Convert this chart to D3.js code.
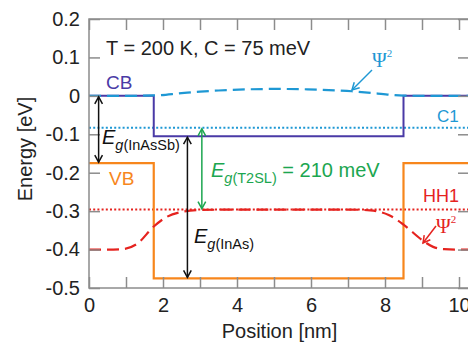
<!DOCTYPE html>
<html>
<head>
<meta charset="utf-8">
<script src="https://cdn.jsdelivr.net/npm/d3@7"></script>
<style>
  body { margin: 0; background: #fff; }
  svg { display: block; font-family: "Liberation Sans", Arial, sans-serif; }
</style>
</head>
<body>
<svg id="chart" width="468" height="346"></svg>
<script>
// band edges (eV) along the position (nm)
const bandX = [0, 1.75, 1.75, 8.5, 8.5, 10.5];
const cbE = [0, 0, -0.105, -0.105, 0, 0];
const vbE = [-0.175, -0.175, -0.475, -0.475, -0.175, -0.175];

// confined levels
const c1E = -0.083;
const hh1E = -0.296;

// electron probability density (shifted onto CB)
const psiEX = [0, 1, 1.75, 2.5, 3.0, 3.5, 4.3, 5.1, 5.9, 6.7, 7.1, 7.8, 8.5, 9.5, 10.5];
const psiEY = [0, 0, 0.001, 0.007, 0.011, 0.014, 0.017, 0.018, 0.017, 0.014, 0.012, 0.006, 0.0005, 0, 0];

// hole probability density
const psiHX = [0, 0.5, 0.9, 1.3, 1.75, 2.1, 2.5, 3.0, 4, 5, 6, 7, 7.6, 8.1, 8.5, 9.0, 9.3, 9.6, 10, 10.5];
const psiHY = [-0.4, -0.4, -0.399, -0.385, -0.34, -0.315, -0.302, -0.297, -0.296, -0.296, -0.296, -0.296,
               -0.298, -0.31, -0.335, -0.375, -0.393, -0.399, -0.4, -0.4];

const xTicks = [0, 1, 2, 3, 4, 5, 6, 7, 8, 9, 10];
const yTicks = [-0.5, -0.4, -0.3, -0.2, -0.1, 0, 0.1, 0.2];

const cPurple = "#4a3aa6", cBlue = "#1e98d4", cOrange = "#f7861c",
      cRed = "#e5231f", cGreen = "#1ca650", cAxis = "#8c8c8c", cText = "#222";

const svg = d3.select("#chart");
const mLeft = 89, mTop = 19, mRight = 469, mBottom = 288;

const x = d3.scaleLinear().domain([0, 10]).range([mLeft, 459]);
const y = d3.scaleLinear().domain([-0.5, 0.2]).range([mBottom, mTop]);
const xMax = x.invert(mRight);

svg.append("clipPath").attr("id", "clip")
  .append("rect").attr("x", mLeft).attr("y", mTop)
  .attr("width", mRight - mLeft).attr("height", mBottom - mTop);

const plot = svg.append("g").attr("clip-path", "url(#clip)");
const line = d3.line().x(d => x(d[0])).y(d => y(d[1]));

// dotted confined levels
[[c1E, cBlue], [hh1E, cRed]].forEach(([e, c]) => {
  plot.append("path")
    .attr("d", line([[0, e], [xMax, e]]))
    .attr("fill", "none").attr("stroke", c)
    .attr("stroke-width", 2).attr("stroke-dasharray", "2,2.2");
});

// band edges
plot.append("path").attr("d", line(bandX.map((v, i) => [v, cbE[i]])))
  .attr("fill", "none").attr("stroke", cPurple).attr("stroke-width", 2);
plot.append("path").attr("d", line(bandX.map((v, i) => [v, vbE[i]])))
  .attr("fill", "none").attr("stroke", cOrange).attr("stroke-width", 2.2);

// wavefunctions
const curve = d3.line().x(d => x(d[0])).y(d => y(d[1])).curve(d3.curveMonotoneX);
plot.append("path").attr("d", curve(psiEX.map((v, i) => [v, psiEY[i]])))
  .attr("fill", "none").attr("stroke", cBlue).attr("stroke-width", 2.2)
  .attr("stroke-dasharray", "12,6");
plot.append("path").attr("d", curve(psiHX.map((v, i) => [v, psiHY[i]])))
  .attr("fill", "none").attr("stroke", cRed).attr("stroke-width", 2.2)
  .attr("stroke-dasharray", "12,6");

// axes: ticks point inwards on all four sides
const tick = 11;
const fmtX = d => (d % 2 === 0 ? d : "");
const axB = svg.append("g").attr("transform", `translate(0,${mBottom})`)
  .call(d3.axisBottom(x).tickValues(xTicks).tickSize(-tick).tickPadding(10).tickFormat(fmtX));
const axT = svg.append("g").attr("transform", `translate(0,${mTop})`)
  .call(d3.axisTop(x).tickValues(xTicks).tickSize(-tick).tickFormat(""));
const axL = svg.append("g").attr("transform", `translate(${mLeft},0)`)
  .call(d3.axisLeft(y).tickValues(yTicks).tickSize(-tick).tickPadding(9));
const axR = svg.append("g").attr("transform", `translate(${mRight},0)`)
  .call(d3.axisRight(y).tickValues(yTicks).tickSize(-tick).tickFormat(""));
[axB, axT, axL, axR].forEach(a => {
  a.select(".domain").remove();
  a.selectAll("line").attr("stroke", cAxis).attr("stroke-width", 1.5);
  a.selectAll("text").attr("font-size", 20).attr("fill", cText)
    .attr("font-family", "Liberation Sans, Arial, sans-serif");
});
axL.selectAll("text").text(d => Math.abs(d) < 1e-9 ? "0" : d3.format(".1f")(d).replace("−", "-"));
svg.append("rect").attr("x", mLeft).attr("y", mTop)
  .attr("width", mRight - mLeft).attr("height", mBottom - mTop)
  .attr("fill", "none").attr("stroke", cAxis).attr("stroke-width", 1.5);

// axis titles
svg.append("text").attr("x", (mLeft + 468) / 2 + 1).attr("y", 338)
  .attr("text-anchor", "middle").attr("font-size", 20).attr("fill", cText)
  .text("Position [nm]");
svg.append("text").attr("transform", "translate(32,149) rotate(-90)")
  .attr("text-anchor", "middle").attr("font-size", 20).attr("fill", cText)
  .text("Energy [eV]");

// arrows
function arrow(x0, y0, x1, y1, color, both) {
  const g = svg.append("g").attr("stroke", color).attr("stroke-width", 1.5).attr("fill", "none");
  g.append("line").attr("x1", x0).attr("y1", y0).attr("x2", x1).attr("y2", y1);
  const head = (tx, ty, fx, fy) => {
    const a = Math.atan2(ty - fy, tx - fx), l = 8, w = 0.5;
    g.append("path").attr("d",
      `M${tx - l * Math.cos(a - w)},${ty - l * Math.sin(a - w)}L${tx},${ty}L${tx - l * Math.cos(a + w)},${ty - l * Math.sin(a + w)}`);
  };
  head(x1, y1, x0, y0);
  if (both) head(x0, y0, x1, y1);
}
arrow(x(0.26), y(0) + 1, x(0.26), y(vbE[0]) - 1, "#111", true);
arrow(x(2.66), y(cbE[2]) + 1, x(2.66), y(vbE[2]) - 1, "#111", true);
arrow(x(3.05), y(c1E) + 1, x(3.05), y(hh1E) - 1, cGreen, true);
arrow(372, 70, 352, 90, cBlue, false);
arrow(436, 226, 423, 243, cRed, false);

// labels
function label(tx, ty, txt, color, size) {
  return svg.append("text").attr("x", tx).attr("y", ty).attr("fill", color)
    .attr("font-size", size).text(txt);
}
label(106, 55, "T = 200 K, C = 75 meV", cText, 20);
label(106, 89, "CB", cPurple, 19);
label(109, 185, "VB", cOrange, 19);
label(437, 122, "C1", cBlue, 17);
label(423, 201.5, "HH1", cRed, 18);

function psi(tx, ty, color) {
  const t = svg.append("text").attr("x", tx).attr("y", ty).attr("fill", color)
    .attr("font-family", "Liberation Serif, Times New Roman, serif").attr("font-size", 20);
  t.append("tspan").text("Ψ");
  t.append("tspan").attr("dy", -10).attr("font-size", 11).text("2");
}
psi(372, 67, cBlue);
psi(436, 233, cRed);

function eg(tx, ty, sub, tail, color) {
  const t = svg.append("text").attr("x", tx).attr("y", ty).attr("fill", color).attr("font-size", 20);
  t.append("tspan").attr("font-style", "italic").text("E");
  t.append("tspan").attr("dy", 6).attr("font-size", 14.5).attr("font-style", "italic").text("g");
  t.append("tspan").attr("font-size", 14.5).text(sub);
  if (tail) t.append("tspan").attr("dy", -6).text(" " + tail);
}
eg(102, 144, "(InAsSb)", null, "#111");
eg(211, 177, "(T2SL)", "= 210 meV", cGreen);
eg(194, 243, "(InAs)", null, "#111");
</script>
</body>
</html>
